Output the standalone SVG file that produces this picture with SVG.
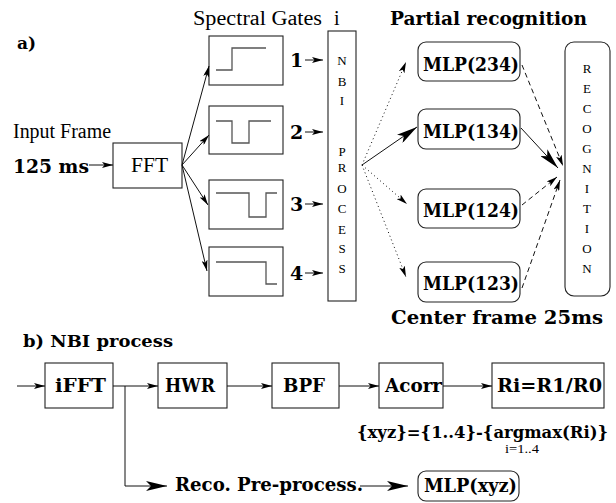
<svg xmlns="http://www.w3.org/2000/svg" width="616" height="503" viewBox="0 0 616 503">
<style>
.box{fill:#fff;stroke:#222;stroke-width:1.1}
.wave{fill:none;stroke:#555;stroke-width:1.3}
.ln{fill:none;stroke:#111;stroke-width:1}
.dot{fill:none;stroke:#111;stroke-width:1;stroke-dasharray:1,3}
.dash{fill:none;stroke:#111;stroke-width:1;stroke-dasharray:5,3.5}
.t{font-family:"Liberation Serif",serif;fill:#000}
.b{font-family:"DejaVu Serif","Liberation Serif",serif;font-weight:bold;fill:#000}
.v{font-family:"Liberation Serif",serif;font-size:13px;fill:#000;text-anchor:middle}
</style>
<defs>
<marker id="a" markerUnits="userSpaceOnUse" markerWidth="12" markerHeight="6" refX="11" refY="3" orient="auto"><path d="M0,0 L11,3 L0,6 L2.5,3 z" fill="#000"/></marker>
<marker id="big" markerUnits="userSpaceOnUse" markerWidth="22" markerHeight="10" refX="21" refY="5" orient="auto"><path d="M0,0 L21,5 L0,10 L5,5 z" fill="#000"/></marker>
</defs>

<text class="b" x="17" y="49" font-size="17">a)</text>
<text class="t" x="13" y="138" font-size="20" textLength="98" lengthAdjust="spacingAndGlyphs">Input Frame</text>
<text class="b" x="13" y="173" font-size="18" textLength="76" lengthAdjust="spacingAndGlyphs">125 ms</text>
<text class="t" x="193" y="25" font-size="20" textLength="129" lengthAdjust="spacingAndGlyphs">Spectral Gates</text>
<text class="t" x="334" y="25" font-size="20">i</text>
<text class="b" x="390" y="25" font-size="18" textLength="197" lengthAdjust="spacingAndGlyphs">Partial recognition</text>
<text class="b" x="391" y="324" font-size="18" textLength="212" lengthAdjust="spacingAndGlyphs">Center frame 25ms</text>
<text class="b" x="23" y="347" font-size="17" textLength="150" lengthAdjust="spacingAndGlyphs">b) NBI process</text>

<g id="fft"><rect class="box" x="113" y="143" width="69" height="45"/><text class="t" x="131" y="172" font-size="21" textLength="37" lengthAdjust="spacingAndGlyphs">FFT</text></g>

<g id="gate1"><rect class="box" x="209" y="36" width="74" height="49"/><path class="wave" d="M216,70 H232 V48 H266"/><text class="b" x="290" y="67" font-size="19">1</text></g>
<g id="gate2"><rect class="box" x="209" y="106" width="74" height="48"/><path class="wave" d="M216,121 H232 V143 H249 V121 H271"/><text class="b" x="290" y="139" font-size="19">2</text></g>
<g id="gate3"><rect class="box" x="209" y="180" width="74" height="49"/><path class="wave" d="M216,193 H249 V217 H266 V193 H277"/><text class="b" x="290" y="211" font-size="19">3</text></g>
<g id="gate4"><rect class="box" x="209" y="247" width="74" height="49"/><path class="wave" d="M216,262 H266 V284 H277"/><text class="b" x="290" y="280" font-size="19">4</text></g>

<g id="nbi"><rect class="box" x="328" y="31" width="28" height="270"/>
<text class="v" x="342" y="65">N</text><text class="v" x="342" y="86">B</text><text class="v" x="342" y="105">I</text>
<text class="v" x="342" y="156">P</text><text class="v" x="342" y="172">R</text><text class="v" x="342" y="193">O</text>
<text class="v" x="342" y="213">C</text><text class="v" x="342" y="234">E</text><text class="v" x="342" y="253">S</text><text class="v" x="342" y="273">S</text></g>

<g id="mlp234"><rect class="box" x="418" y="42" width="102" height="39" rx="8"/><text class="b" x="423" y="71" font-size="19" textLength="96" lengthAdjust="spacingAndGlyphs">MLP(234)</text></g>
<g id="mlp134"><rect class="box" x="418" y="109" width="102" height="40" rx="8"/><text class="b" x="423" y="138" font-size="19" textLength="96" lengthAdjust="spacingAndGlyphs">MLP(134)</text></g>
<g id="mlp124"><rect class="box" x="418" y="189" width="102" height="39" rx="8"/><text class="b" x="423" y="217" font-size="19" textLength="96" lengthAdjust="spacingAndGlyphs">MLP(124)</text></g>
<g id="mlp123"><rect class="box" x="418" y="262" width="102" height="40" rx="8"/><text class="b" x="423" y="290" font-size="19" textLength="96" lengthAdjust="spacingAndGlyphs">MLP(123)</text></g>

<g id="recognition"><rect class="box" x="565" y="42" width="45" height="254" rx="9"/>
<text class="v" x="587" y="73">R</text><text class="v" x="587" y="93">E</text><text class="v" x="587" y="113">C</text><text class="v" x="587" y="133">O</text><text class="v" x="587" y="153">G</text><text class="v" x="587" y="173">N</text><text class="v" x="587" y="193">I</text><text class="v" x="587" y="213">T</text><text class="v" x="587" y="233">I</text><text class="v" x="587" y="253">O</text><text class="v" x="587" y="273">N</text></g>

<g id="ifft"><rect class="box" x="45" y="363" width="68" height="45"/><text class="b" x="55" y="392" font-size="18" textLength="51" lengthAdjust="spacingAndGlyphs">iFFT</text></g>
<g id="hwr"><rect class="box" x="158" y="363" width="69" height="45"/><text class="b" x="165" y="392" font-size="18" textLength="50" lengthAdjust="spacingAndGlyphs">HWR</text></g>
<g id="bpf"><rect class="box" x="272" y="363" width="67" height="45"/><text class="b" x="283" y="392" font-size="18" textLength="42" lengthAdjust="spacingAndGlyphs">BPF</text></g>
<g id="acorr"><rect class="box" x="379" y="363" width="64" height="45"/><text class="b" x="385" y="392" font-size="18" textLength="57" lengthAdjust="spacingAndGlyphs">Acorr</text></g>
<g id="ratio"><rect class="box" x="492" y="363" width="112" height="45"/><text class="b" x="497" y="392" font-size="18" textLength="105" lengthAdjust="spacingAndGlyphs">Ri=R1/R0</text></g>
<text class="b" x="357" y="438" font-size="17" textLength="251" lengthAdjust="spacingAndGlyphs">{xyz}={1..4}-{argmax(Ri)}</text>
<text class="t" x="505" y="453" font-size="12" textLength="34" lengthAdjust="spacingAndGlyphs">i=1..4</text>
<text class="b" x="175" y="491" font-size="18" textLength="188" lengthAdjust="spacingAndGlyphs">Reco. Pre-process.</text>
<g id="mlpxyz"><rect class="box" x="418" y="471" width="101" height="30" rx="8"/><text class="b" x="424" y="492" font-size="18" textLength="93" lengthAdjust="spacingAndGlyphs">MLP(xyz)</text></g>

<g id="connectors">
<line class="ln" x1="89" y1="165" x2="113" y2="165" marker-end="url(#a)"/>
<line class="ln" x1="182" y1="165" x2="209" y2="66" marker-end="url(#a)"/>
<line class="ln" x1="182" y1="165" x2="209" y2="135" marker-end="url(#a)"/>
<line class="ln" x1="182" y1="165" x2="208" y2="205" marker-end="url(#a)"/>
<line class="ln" x1="182" y1="165" x2="207" y2="271" marker-end="url(#a)"/>
<line class="ln" x1="305" y1="60" x2="323" y2="60" marker-end="url(#a)"/>
<line class="ln" x1="305" y1="132" x2="323" y2="132" marker-end="url(#a)"/>
<line class="ln" x1="305" y1="204" x2="323" y2="204" marker-end="url(#a)"/>
<line class="ln" x1="305" y1="273" x2="323" y2="273" marker-end="url(#a)"/>
<line class="dot" x1="362" y1="165" x2="406" y2="62" marker-end="url(#a)"/>
<line class="ln" x1="362" y1="165" x2="417" y2="127" stroke-width="1.5" marker-end="url(#big)"/>
<line class="dot" x1="362" y1="165" x2="407" y2="204" marker-end="url(#a)"/>
<line class="dot" x1="362" y1="165" x2="406" y2="277" marker-end="url(#a)"/>
<line class="dash" x1="522" y1="65" x2="563" y2="166" marker-end="url(#a)"/>
<line class="ln" x1="521" y1="128" x2="558" y2="168" stroke-width="1.5" marker-end="url(#big)"/>
<line class="dash" x1="522" y1="205" x2="557" y2="177" marker-end="url(#a)"/>
<line class="dash" x1="522" y1="288" x2="560" y2="180" marker-end="url(#a)"/>
<line class="ln" x1="17" y1="386" x2="45" y2="386" marker-end="url(#a)"/>
<line class="ln" x1="113" y1="386" x2="158" y2="386" marker-end="url(#a)"/>
<line class="ln" x1="227" y1="386" x2="272" y2="386" marker-end="url(#a)"/>
<line class="ln" x1="339" y1="386" x2="379" y2="386" marker-end="url(#a)"/>
<line class="ln" x1="443" y1="386" x2="492" y2="386" marker-end="url(#a)"/>
<polyline class="ln" points="125,386 125,486 167,486" marker-end="url(#big)"/>
<line class="ln" x1="360" y1="486" x2="408" y2="486" marker-end="url(#big)"/>
</g>
</svg>
